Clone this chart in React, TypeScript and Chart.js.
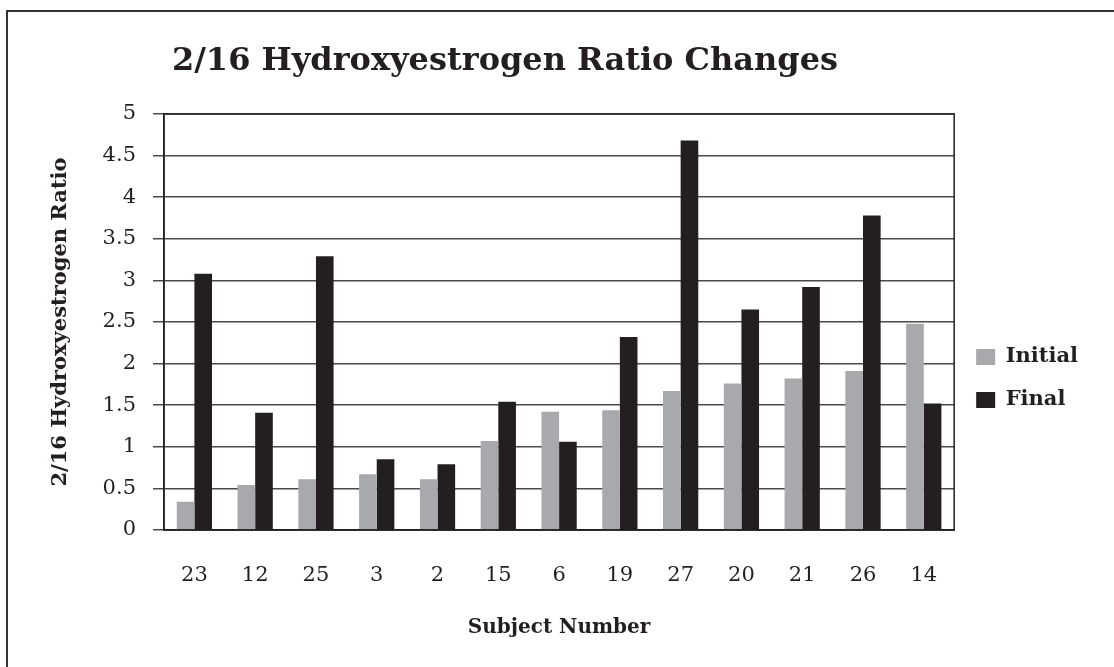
import React, { useEffect, useRef } from "react";
import { Chart, registerables } from "chart.js";

Chart.register(...registerables);

const subjects = ["23", "12", "25", "3", "2", "15", "6", "19", "27", "20", "21", "26", "14"];
const initialValues = [0.34, 0.54, 0.61, 0.67, 0.61, 1.07, 1.42, 1.44, 1.67, 1.76, 1.82, 1.91, 2.48];
const finalValues = [3.08, 1.41, 3.29, 0.85, 0.79, 1.54, 1.06, 2.32, 4.68, 2.65, 2.92, 3.78, 1.52];
const chartTitle = "2/16 Hydroxyestrogen Ratio Changes";
const yTitle = "2/16 Hydroxyestrogen Ratio";
const xTitle = "Subject Number";

const SERIF = "'DejaVu Serif', 'Liberation Serif', serif";
const INK = "#231f20";
const GRAY = "#a7a9ac";

const framePlugin = {
  id: "frameAndTitle",
  afterDatasetsDraw(chart: any) {
    const { ctx, chartArea } = chart;
    ctx.save();
    ctx.strokeStyle = INK;
    ctx.lineWidth = 1.5;
    ctx.strokeRect(chartArea.left, chartArea.top, chartArea.right - chartArea.left, chartArea.bottom - chartArea.top);
    ctx.restore();
  },
  afterDraw(chart: any) {
    const { ctx } = chart;
    ctx.save();
    ctx.fillStyle = INK;
    ctx.font = `bold 32px ${SERIF}`;
    ctx.textAlign = "center";
    ctx.textBaseline = "alphabetic";
    ctx.fillText(chartTitle, 505, 70);
    ctx.restore();
  },
};

export default function App() {
  const ref = useRef<HTMLCanvasElement>(null);
  useEffect(() => {
    if (!ref.current) return;
    const chart = new Chart(ref.current, {
      type: "bar",
      data: {
        labels: subjects,
        datasets: [
          { label: "Initial", data: initialValues, backgroundColor: GRAY, borderWidth: 0 },
          { label: "Final", data: finalValues, backgroundColor: INK, borderWidth: 0 },
        ],
      },
      plugins: [framePlugin],
      options: {
        responsive: false,
        animation: false,
        events: [],
        layout: { padding: { top: 114, bottom: 24, left: 48, right: 26 } },
        datasets: { bar: { categoryPercentage: 0.58, barPercentage: 1.0 } },
        plugins: {
          title: { display: false },
          tooltip: { enabled: false },
          legend: {
            position: "right",
            labels: {
              color: INK,
              font: { family: SERIF, size: 21, weight: "bold" },
              boxWidth: 19,
              boxHeight: 16,
              padding: 22,
            },
          },
        },
        scales: {
          x: {
            grid: { display: false, drawTicks: false },
            border: { display: true, color: INK, width: 1.5 },
            ticks: { color: INK, font: { family: SERIF, size: 21 }, padding: 33, maxRotation: 0 },
            title: {
              display: true,
              text: xTitle,
              color: INK,
              font: { family: SERIF, size: 20, weight: "bold" },
              padding: { top: 0, bottom: 3 },
            },
            afterFit: (scale: any) => {
              scale.height = 113;
            },
          },
          y: {
            min: 0,
            max: 5,
            ticks: {
              stepSize: 0.5,
              color: INK,
              font: { family: SERIF, size: 21 },
              padding: 17,
              callback: (v: any) => String(Number(v)),
            },
            grid: { color: "#4a4a4a", lineWidth: 1.5, tickLength: 11, drawTicks: true },
            border: { display: true, color: INK, width: 1.5 },
            title: {
              display: true,
              text: yTitle,
              color: INK,
              font: { family: SERIF, size: 21, weight: "bold" },
              padding: { top: 0, bottom: 0 },
            },
            afterFit: (scale: any) => {
              scale.width = 116;
            },
          },
        },
      },
    });
    return () => chart.destroy();
  }, []);
  return (
    <div style={{ position: "absolute", left: 0, top: 0, width: 1114, height: 667, background: "#fff", overflow: "hidden" }}>
      <div
        style={{
          position: "absolute",
          left: 6,
          top: 10,
          width: 1200,
          height: 800,
          borderLeft: "2px solid #333",
          borderTop: "2px solid #333",
        }}
      />
      <canvas ref={ref} width={1114} height={667} style={{ position: "absolute", left: 0, top: 0 }} />
    </div>
  );
}
